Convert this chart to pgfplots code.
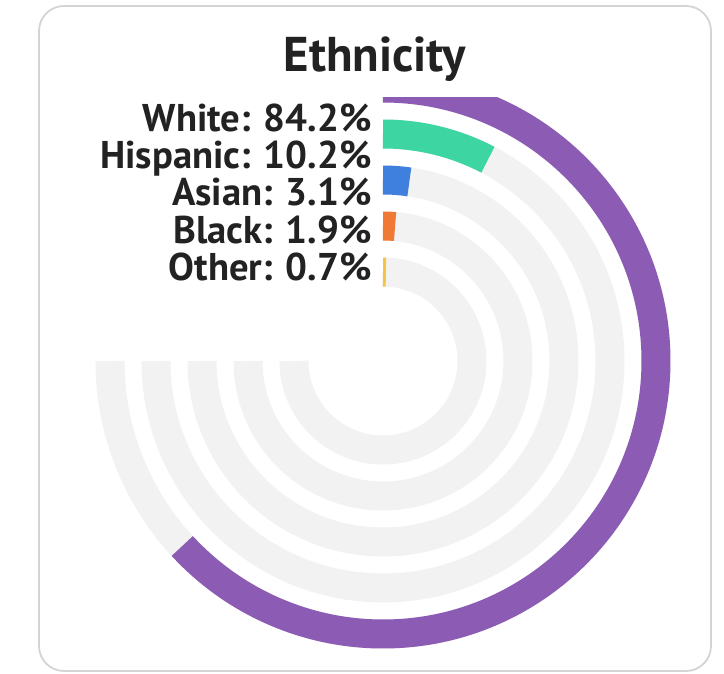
\documentclass[border=0pt]{standalone}
\usepackage{pgfplots}
\pgfplotsset{compat=1.18}
\usepackage{pgfplotstable}
\usepackage{fontspec}
\setmainfont{PT Sans}

\definecolor{cWhite}{HTML}{8C5BB4}
\definecolor{cHispanic}{HTML}{3DD6A3}
\definecolor{cAsian}{HTML}{3F7FDE}
\definecolor{cBlack}{HTML}{F07A35}
\definecolor{cOther}{HTML}{F5C445}
\definecolor{track}{HTML}{F2F2F2}
\definecolor{cardline}{HTML}{D4D4D4}
\definecolor{txt}{HTML}{222222}

% share of each group, in percent (100 % = 270 degrees)
\pgfplotstableread{
name     val
White    84.2
Hispanic 10.2
Asian    3.1
Black    1.9
Other    0.7
}\ethn

\begin{document}
\begin{tikzpicture}
% page and card (1 px of the reference = 0.5bp)
\fill[white] (0,0) rectangle (362bp,337bp);
\draw[cardline, line width=0.9bp, rounded corners=12.5bp, fill=white]
  (19.5bp,1.5bp) rectangle (355.5bp,334bp);

\begin{axis}[
  x=0.5bp, y=0.5bp,
  xmin=0, xmax=724,
  ymin=0, ymax=577,
  hide axis,
  clip=true,
]
\pgfplotsinvokeforeach{0,...,4}{
  \pgfplotstablegetelem{#1}{val}\of\ethn \let\val\pgfplotsretval
  \pgfplotstablegetelem{#1}{name}\of\ethn \let\lbl\pgfplotsretval
  \pgfmathsetmacro\rad{273-46*#1}
  \pgfmathsetmacro\ty{313+\rad}
  \pgfmathsetlengthmacro\R{\rad*0.5bp}
  \pgfmathsetmacro\e{90-2.7*\val}
  \pgfmathsetmacro\by{542.3-37.1*#1}
  \edef\doit{%
    \noexpand\draw[track, line width=14.5bp]
      (axis cs:383,\ty) arc[start angle=90, end angle=-180, radius=\R];
    \noexpand\draw[c\lbl, line width=14.5bp]
      (axis cs:383,\ty) arc[start angle=90, end angle=\e, radius=\R];
    \noexpand\node[anchor=base east, inner sep=0pt, text=txt,
      font=\noexpand\fontsize{19.4}{24}\noexpand\selectfont\noexpand\bfseries]
      at (axis cs:372,\by) {\lbl: \val\noexpand\%};
  }
  \doit
}
\end{axis}

\node[anchor=base, inner sep=0pt, text=txt, font=\fontsize{24.5}{30}\selectfont\bfseries]
  at (187.5bp,301bp) {Ethnicity};
\end{tikzpicture}
\end{document}
